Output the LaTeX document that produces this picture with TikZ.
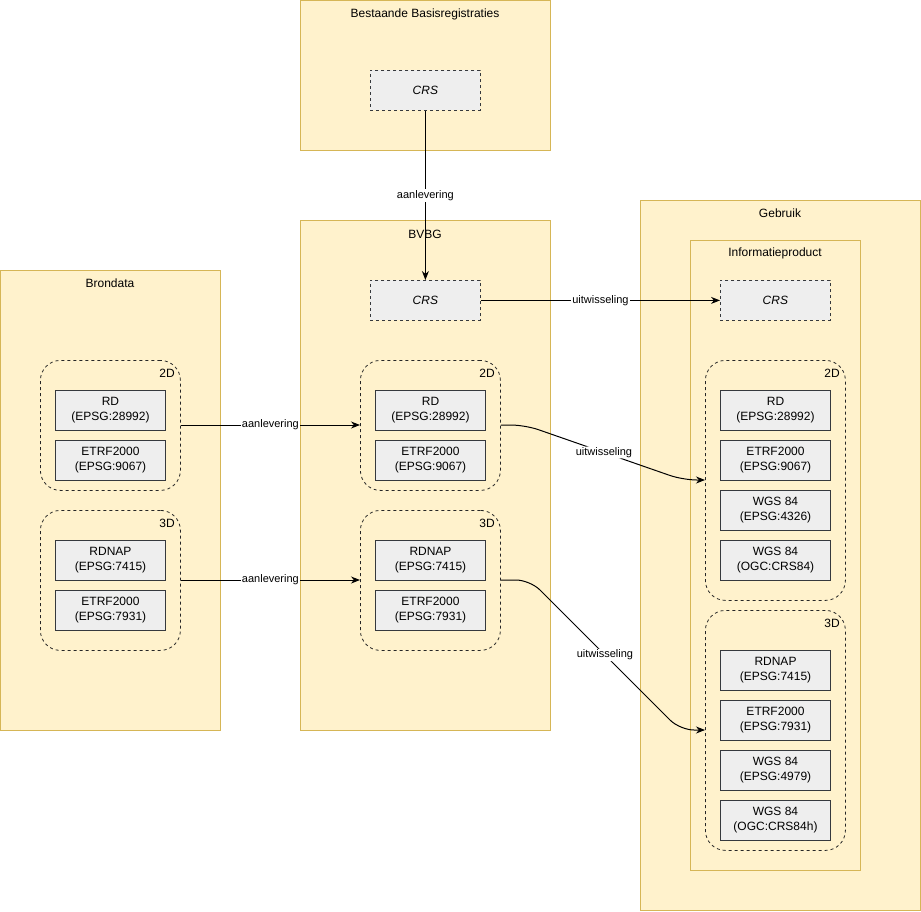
\documentclass[tikz,border=0pt]{standalone}
\usepackage{fontspec}
\setmainfont{Liberation Sans}
\usetikzlibrary{arrows.meta}
\definecolor{contfill}{HTML}{FFF2CC}
\definecolor{contdraw}{HTML}{D6B656}
\definecolor{boxfill}{HTML}{EEEEEE}
\definecolor{boxdraw}{HTML}{36393D}
\begin{document}
\begin{tikzpicture}[x=1pt,y=-1pt,
  container/.style={draw=contdraw,fill=contfill,line width=1pt,anchor=north west,inner sep=0pt},
  title/.style={font=\fontsize{12}{15}\selectfont,anchor=center,inner sep=0pt},
  crsbox/.style={draw=boxdraw,fill=boxfill,line width=0.8pt,dash pattern=on 3pt off 3pt,minimum width=110pt,minimum height=40pt,anchor=north west,inner sep=0pt,font=\fontsize{12}{15}\selectfont\itshape},
  crsitem/.style={draw=boxdraw,fill=boxfill,line width=1pt,minimum width=110pt,minimum height=40pt,anchor=north west,inner sep=0pt,align=center,font=\fontsize{12}{15}\selectfont},
  grp/.style={draw=black!85,line width=0.8pt,dash pattern=on 3pt off 3pt,rounded corners=20pt,anchor=north west,inner sep=0pt},
  grplbl/.style={font=\fontsize{12}{15}\selectfont,anchor=center,inner sep=0pt},
  edge/.style={draw=black,line width=1pt,-{Stealth[length=9pt,width=7pt]}},
  lbl/.style={fill=white,font=\fontsize{11}{13}\selectfont,inner sep=1pt}
]
\useasboundingbox (0,0) rectangle (921,911);

% Containers
\node[container,minimum width=250pt,minimum height=150pt] (bestaande) at (300,0) {};
\node[title] (bestaandeT) at (425,14) {Bestaande Basisregistraties};
\node[container,minimum width=250pt,minimum height=510pt] (bvbg) at (300,220) {};
\node[title] (bvbgT) at (425,234) {BVBG};
\node[container,minimum width=220pt,minimum height=460pt] (brondata) at (0,270) {};
\node[title] (brondataT) at (110,283) {Brondata};
\node[container,minimum width=280pt,minimum height=710pt] (gebruik) at (640,200) {};
\node[title] (gebruikT) at (780,213) {Gebruik};
\node[container,minimum width=170pt,minimum height=630pt] (info) at (690,240) {};
\node[title] (infoT) at (775,253) {Informatieproduct};

% CRS boxes
\node[crsbox] (crsA) at (370,70) {CRS};
\node[crsbox] (crsB) at (370,280) {CRS};
\node[crsbox] (crsC) at (720,280) {CRS};

% Brondata groups
\node[grp,minimum width=140pt,minimum height=130pt] (b2d) at (40,360) {};
\node[grplbl] (b2dL) at (167,373) {2D};
\node[crsitem] (b2d1) at (55,390) {RD\\(EPSG:28992)};
\node[crsitem] (b2d2) at (55,440) {ETRF2000\\(EPSG:9067)};
\node[grp,minimum width=140pt,minimum height=140pt] (b3d) at (40,510) {};
\node[grplbl] (b3dL) at (167,523) {3D};
\node[crsitem] (b3d1) at (55,540) {RDNAP\\(EPSG:7415)};
\node[crsitem] (b3d2) at (55,590) {ETRF2000\\(EPSG:7931)};

% BVBG groups
\node[grp,minimum width=140pt,minimum height=130pt] (v2d) at (360,360) {};
\node[grplbl] (v2dL) at (487,373) {2D};
\node[crsitem] (v2d1) at (375,390) {RD\\(EPSG:28992)};
\node[crsitem] (v2d2) at (375,440) {ETRF2000\\(EPSG:9067)};
\node[grp,minimum width=140pt,minimum height=140pt] (v3d) at (360,510) {};
\node[grplbl] (v3dL) at (487,523) {3D};
\node[crsitem] (v3d1) at (375,540) {RDNAP\\(EPSG:7415)};
\node[crsitem] (v3d2) at (375,590) {ETRF2000\\(EPSG:7931)};

% Informatieproduct groups
\node[grp,minimum width=140pt,minimum height=240pt] (i2d) at (705,360) {};
\node[grplbl] (i2dL) at (832,373) {2D};
\node[crsitem] (i2d1) at (720,390) {RD\\(EPSG:28992)};
\node[crsitem] (i2d2) at (720,440) {ETRF2000\\(EPSG:9067)};
\node[crsitem] (i2d3) at (720,490) {WGS 84\\(EPSG:4326)};
\node[crsitem] (i2d4) at (720,540) {WGS 84\\(OGC:CRS84)};
\node[grp,minimum width=140pt,minimum height=240pt] (i3d) at (705,610) {};
\node[grplbl] (i3dL) at (832,623) {3D};
\node[crsitem] (i3d1) at (720,650) {RDNAP\\(EPSG:7415)};
\node[crsitem] (i3d2) at (720,700) {ETRF2000\\(EPSG:7931)};
\node[crsitem] (i3d3) at (720,750) {WGS 84\\(EPSG:4979)};
\node[crsitem] (i3d4) at (720,800) {WGS 84\\(OGC:CRS84h)};

% Connectors
\draw[edge] (crsA.south) -- node[lbl] {aanlevering} (crsB.north);
\draw[edge] (crsB.east) -- node[lbl] {uitwisseling} (crsC.west);
\draw[edge] (b2d.east |- 0,425) -- node[lbl] {aanlevering} (v2d.west |- 0,425);
\draw[edge] (b3d.east |- 0,580) -- node[lbl] {aanlevering} (v3d.west |- 0,580);
\coordinate (c1) at (525,425);
\coordinate (c2) at (683,480);
\draw[edge,rounded corners=14pt] (v2d.east |- 0,425) -- (c1) -- node[lbl] {uitwisseling} (c2) -- (i2d.west |- 0,480);
\coordinate (c3) at (530,580);
\coordinate (c4) at (680,730);
\draw[edge,rounded corners=14pt] (v3d.east |- 0,580) -- (c3) -- node[lbl] {uitwisseling} (c4) -- (i3d.west |- 0,730);
\end{tikzpicture}
\end{document}
